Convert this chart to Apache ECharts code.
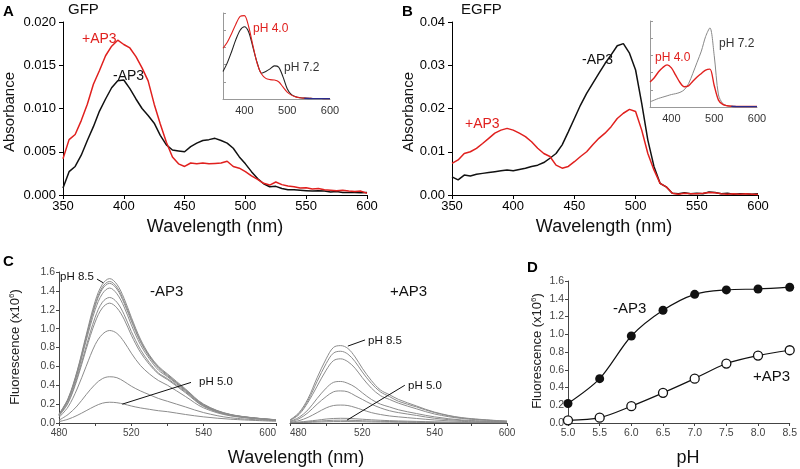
<!DOCTYPE html>
<html lang="en">
<head>
<meta charset="UTF-8">
<title>GFP / EGFP spectra</title>
<script src="https://cdn.jsdelivr.net/npm/echarts@6/dist/echarts.min.js"></script>
<style>
  html, body { margin: 0; padding: 0; background: #fff; }
  #chart { width: 800px; height: 469px; }
</style>
</head>
<body>
<div id="chart"></div>
<script>
// ---- data ----

// panels A and B: absorbance, 350-600 nm every 5 nm
var absWave = [350,355,360,365,370,375,380,385,390,395,400,405,410,415,420,425,430,435,440,445,450,
  455,460,465,470,475,480,485,490,495,500,505,510,515,520,525,530,535,540,545,550,
  555,560,565,570,575,580,585,590,595,600];

var gfpPlus = [0.0042,0.0064,0.0070,0.0086,0.0105,0.0128,0.0144,0.0161,0.0172,0.0179,0.0174,0.0170,0.0160,0.0147,0.0132,0.0105,0.0082,0.0061,0.0044,0.0036,0.0033,
  0.0037,0.0036,0.0037,0.0036,0.00365,0.0037,0.0039,0.0033,0.0031,0.0027,0.0022,0.0018,0.00135,0.00115,0.0015,0.0012,0.00105,0.00095,0.0008,0.00085,
  0.0007,0.00075,0.0006,0.00055,0.0005,0.00055,0.00045,0.0004,0.00045,0.0002];
var gfpMinus = [0.0008,0.0027,0.0033,0.0046,0.0063,0.0079,0.0097,0.0111,0.0124,0.0132,0.0133,0.0123,0.0111,0.0100,0.0092,0.0083,0.0069,0.0058,0.0052,0.0051,0.0050,
  0.0056,0.0060,0.0063,0.0064,0.00655,0.0063,0.0060,0.0054,0.0044,0.0036,0.0027,0.0019,0.0013,0.00095,0.0010,0.00075,0.0006,0.0006,0.00055,0.0005,
  0.00045,0.0005,0.00045,0.00035,0.0004,0.0003,0.0003,0.0003,0.00025,0.0003];

var egfpMinus = [0.0042,0.0035,0.0046,0.0044,0.0048,0.0050,0.0052,0.0054,0.0056,0.0058,0.0056,0.0059,0.0062,0.0066,0.0069,0.0075,0.0085,0.0096,0.0116,0.0146,0.0177,
  0.0208,0.0235,0.0258,0.0281,0.0304,0.0324,0.0345,0.0350,0.0328,0.0289,0.0212,0.0127,0.0066,0.0027,0.0019,0.0004,0.0003,0.0005,0.0003,0.0004,
  0.0003,0.0007,0.0006,0.0003,0.0004,0.0002,0.0003,0.0003,0.0002,0.0003];
var egfpPlus = [0.0073,0.0081,0.0096,0.0100,0.0108,0.0119,0.0131,0.0143,0.0150,0.0154,0.0150,0.0143,0.0135,0.0123,0.0108,0.0096,0.0089,0.0069,0.0062,0.0066,0.0077,
  0.0089,0.0100,0.0116,0.0131,0.0143,0.0158,0.0177,0.0189,0.0198,0.0193,0.0150,0.0096,0.0058,0.0027,0.0019,0.0004,0.0002,0.0004,0.0003,0.0003,
  0.0004,0.0006,0.0005,0.0003,0.0002,0.0003,0.0002,0.0003,0.0002,0.0001];

// insets: normalised absorbance, 350-600 nm every 10 nm
var insetWave = [350,360,370,380,390,400,410,420,430,440,450,460,470,480,490,500,510,520,530,540,550,560,570,580,590,600];
var gfpPH40 = [0.59,0.66,0.76,0.87,0.96,0.97,0.84,0.62,0.41,0.29,0.24,0.225,0.22,0.20,0.14,0.08,0.045,0.025,0.015,0.01,0.008,0.006,0.005,0.005,0.004,0.004];
var gfpPH72 = [0.32,0.42,0.55,0.69,0.80,0.84,0.78,0.60,0.42,0.30,0.32,0.35,0.385,0.37,0.26,0.12,0.05,0.025,0.015,0.01,0.008,0.006,0.005,0.005,0.004,0.004];
var egfpPH40 = [0.29,0.34,0.41,0.46,0.49,0.455,0.37,0.285,0.235,0.245,0.30,0.35,0.39,0.43,0.44,0.25,0.08,0.03,0.015,0.008,0.005,0.005,0.005,0.005,0.005,0.005];
var egfpPH72 = [0.06,0.08,0.10,0.115,0.13,0.145,0.155,0.17,0.20,0.27,0.39,0.52,0.65,0.82,0.92,0.60,0.14,0.04,0.015,0.01,0.005,0.005,0.005,0.005,0.005,0.005];
var tailWave = [540,550,560,570,580,590,600];
var tailVals = [0.008,0.006,0.005,0.005,0.004,0.004,0.004];

// panel C: emission spectra (x10^6), one row per pH, high pH first
var emWave = [480,485,490,495,500,504,508,512,516,520,525,530,535,540,550,560,575,600];
var emMinus = [
  [0.095,0.26,0.55,0.93,1.29,1.47,1.53,1.47,1.32,1.12,0.89,0.72,0.60,0.52,0.36,0.20,0.09,0.035],
  [0.09,0.25,0.54,0.91,1.26,1.44,1.50,1.44,1.29,1.10,0.87,0.71,0.59,0.51,0.35,0.195,0.088,0.034],
  [0.09,0.25,0.53,0.90,1.24,1.42,1.48,1.42,1.27,1.08,0.86,0.70,0.58,0.50,0.35,0.19,0.087,0.034],
  [0.085,0.24,0.51,0.87,1.20,1.37,1.43,1.37,1.23,1.04,0.83,0.68,0.56,0.49,0.34,0.185,0.085,0.033],
  [0.08,0.22,0.48,0.81,1.12,1.28,1.33,1.28,1.15,0.97,0.78,0.64,0.53,0.47,0.33,0.18,0.082,0.032],
  [0.075,0.21,0.46,0.78,1.07,1.22,1.27,1.22,1.10,0.93,0.75,0.62,0.52,0.46,0.32,0.175,0.08,0.031],
  [0.06,0.17,0.36,0.60,0.83,0.94,0.98,0.95,0.86,0.74,0.61,0.52,0.45,0.40,0.28,0.16,0.075,0.03],
  [0.03,0.09,0.18,0.30,0.41,0.47,0.49,0.48,0.44,0.39,0.34,0.30,0.26,0.23,0.17,0.11,0.055,0.024],
  [0.015,0.04,0.08,0.13,0.18,0.21,0.22,0.215,0.20,0.18,0.16,0.145,0.13,0.12,0.09,0.065,0.04,0.018]
];
var emPlus = [
  [0.033,0.11,0.26,0.48,0.68,0.80,0.82,0.79,0.70,0.58,0.45,0.35,0.30,0.25,0.18,0.115,0.057,0.02],
  [0.03,0.10,0.24,0.44,0.63,0.74,0.76,0.73,0.65,0.54,0.42,0.33,0.28,0.23,0.17,0.11,0.053,0.019],
  [0.027,0.09,0.22,0.39,0.56,0.66,0.68,0.65,0.58,0.48,0.37,0.29,0.25,0.21,0.15,0.095,0.048,0.017],
  [0.018,0.06,0.14,0.26,0.37,0.43,0.44,0.42,0.38,0.32,0.25,0.20,0.17,0.14,0.10,0.065,0.032,0.012],
  [0.014,0.045,0.11,0.20,0.28,0.33,0.34,0.33,0.29,0.25,0.20,0.16,0.13,0.11,0.08,0.05,0.026,0.01],
  [0.008,0.025,0.06,0.11,0.16,0.185,0.19,0.185,0.165,0.14,0.11,0.09,0.075,0.065,0.048,0.032,0.017,0.007],
  [0.004,0.01,0.02,0.03,0.042,0.048,0.05,0.049,0.045,0.04,0.034,0.029,0.025,0.022,0.017,0.012,0.007,0.004],
  [0.003,0.006,0.012,0.019,0.025,0.029,0.03,0.029,0.027,0.024,0.021,0.018,0.016,0.014,0.011,0.008,0.005,0.003],
  [0.002,0.004,0.007,0.01,0.013,0.015,0.015,0.015,0.014,0.013,0.011,0.01,0.009,0.008,0.006,0.005,0.003,0.002]
];
// the figure labels its 7 ticks oddly; keep its text
var emTickValues = [480, 520, 560, 600];
var emTickText = ['480', '520', '540', '600'];

// panel D: peak fluorescence vs pH
var phValues = [5.0, 5.5, 6.0, 6.5, 7.0, 7.5, 8.0, 8.5];
var peakMinus = [0.22, 0.50, 0.98, 1.27, 1.45, 1.50, 1.51, 1.53];
var peakPlus = [0.03, 0.06, 0.19, 0.34, 0.50, 0.67, 0.76, 0.82];

// ---- chart ----
var chart = echarts.init(document.getElementById('chart'));
var font = '"Liberation Sans", Arial, Helvetica, sans-serif';
var RED = '#e0201e';

function pairs(xs, ys) {
  return xs.map(function (x, i) { return [x, ys[i]]; });
}

function axis(grid, min, max, interval, opt) {
  opt = opt || {};
  return {
    type: 'value', gridIndex: grid, min: min, max: max, interval: interval,
    show: opt.show !== false,
    splitLine: { show: false },
    axisLine: { show: true, onZero: false, lineStyle: { color: opt.lineColor || '#000', width: 1 } },
    axisTick: { show: opt.tick !== false, inside: !!opt.inside, length: opt.tickLen || 4,
      lineStyle: { color: opt.lineColor || '#000' } },
    axisLabel: { show: opt.label !== false, color: opt.labelColor || '#000', fontSize: opt.fontSize || 13,
      fontFamily: font, margin: opt.margin || 5, formatter: opt.formatter, showMinLabel: true, showMaxLabel: true,
      alignMinLabel: opt.alignMin, alignMaxLabel: opt.alignMax }
  };
}

function line(name, xi, yi, data, color, width, extra) {
  var s = {
    name: name, type: 'line', xAxisIndex: xi, yAxisIndex: yi, data: data,
    showSymbol: false, symbol: 'none', silent: true,
    lineStyle: { color: color, width: width }, itemStyle: { color: color }
  };
  for (var k in extra) s[k] = extra[k];
  return s;
}

var grids = [
  { left: 63, top: 22, width: 304, height: 173 },   // A
  { left: 223, top: 13, width: 107, height: 86 },   // A inset
  { left: 452, top: 22, width: 306, height: 173 },  // B
  { left: 650, top: 21, width: 107, height: 86 },   // B inset
  { left: 59, top: 272, width: 217, height: 151 },  // C -AP3
  { left: 290, top: 272, width: 217, height: 151 }, // C +AP3
  { left: 568, top: 281, width: 223, height: 142 }  // D
];

var insetX = function (v) { return v % 100 === 0 ? String(v) : ''; };
var emX = function (v) { var i = emTickValues.indexOf(v); return i < 0 ? '' : emTickText[i]; };
var fix1 = function (v) { return v.toFixed(1); };

var xAxes = [
  axis(0, 350, 600, 50),
  axis(1, 350, 600, 50, { tick: false, fontSize: 11, labelColor: '#333', lineColor: '#999', formatter: insetX, margin: 6 }),
  axis(2, 350, 600, 50),
  axis(3, 350, 600, 50, { tick: false, fontSize: 11, labelColor: '#333', lineColor: '#999', formatter: insetX, margin: 6 }),
  axis(4, 480, 600, 20, { fontSize: 10, labelColor: '#444', lineColor: '#444', tickLen: 3, formatter: emX, margin: 5, alignMax: 'right' }),
  axis(5, 480, 600, 20, { fontSize: 10, labelColor: '#444', lineColor: '#444', tickLen: 3, formatter: emX, margin: 5, alignMin: 'left' }),
  axis(6, 5, 8.5, 0.5, { fontSize: 10.5, labelColor: '#444', lineColor: '#444', tickLen: 3, formatter: fix1, margin: 5 })
];
var yAxes = [
  axis(0, 0, 0.02, 0.005, { formatter: function (v) { return v.toFixed(3); }, margin: 7 }),
  axis(1, 0, 1, 0.2, { label: false, inside: true, tickLen: 3, lineColor: '#999' }),
  axis(2, 0, 0.04, 0.01, { formatter: function (v) { return v.toFixed(2); }, margin: 7 }),
  axis(3, 0, 1, 0.2, { label: false, inside: true, tickLen: 3, lineColor: '#999' }),
  axis(4, 0, 1.6, 0.2, { fontSize: 10.5, labelColor: '#444', lineColor: '#444', tickLen: 3, formatter: fix1, margin: 4 }),
  axis(5, 0, 1.6, 0.2, { show: false }),
  axis(6, 0, 1.6, 0.2, { fontSize: 10.5, labelColor: '#444', lineColor: '#444', tickLen: 3, formatter: fix1, margin: 4 })
];

var leader = { silent: true, symbol: ['none', 'none'], label: { show: false },
  lineStyle: { color: '#111', width: 1, type: 'solid' }, emphasis: { disabled: true } };

var series = [
  line('GFP -AP3', 0, 0, pairs(absWave, gfpMinus), '#111', 1.5),
  line('GFP +AP3', 0, 0, pairs(absWave, gfpPlus), RED, 1.5),
  line('GFP pH 7.2', 1, 1, pairs(insetWave, gfpPH72), '#222', 1.1, { smooth: 0.3 }),
  line('GFP pH 4.0', 1, 1, pairs(insetWave, gfpPH40), RED, 1.1, { smooth: 0.3 }),
  line('GFP tail', 1, 1, pairs(tailWave, tailVals), '#2b2b8c', 1.3),
  line('EGFP -AP3', 2, 2, pairs(absWave, egfpMinus), '#111', 1.5),
  line('EGFP +AP3', 2, 2, pairs(absWave, egfpPlus), RED, 1.5),
  line('EGFP pH 7.2', 3, 3, pairs(insetWave, egfpPH72), '#888', 1, { smooth: 0.3 }),
  line('EGFP pH 4.0', 3, 3, pairs(insetWave, egfpPH40), RED, 1.4, { smooth: 0.3 }),
  line('EGFP tail', 3, 3, pairs(tailWave, tailVals), '#2b2b8c', 1.3)
];

emMinus.forEach(function (row, i) {
  var extra = { smooth: 0.35 };
  if (i === 0) extra.markLine = Object.assign({ data: [
    [{ coord: [501, 1.525] }, { coord: [504.5, 1.485] }],
    [{ coord: [515, 0.20] }, { coord: [553, 0.43] }]
  ] }, leader);
  series.push(line('-AP3 ' + i, 4, 4, pairs(emWave, row), '#8c8c8c', 1, extra));
});
emPlus.forEach(function (row, i) {
  var extra = { smooth: 0.35 };
  if (i === 0) extra.markLine = Object.assign({ data: [
    [{ coord: [512, 0.815] }, { coord: [521.5, 0.88] }],
    [{ coord: [511.5, 0.03] }, { coord: [543.5, 0.40] }]
  ] }, leader);
  series.push(line('+AP3 ' + i, 5, 5, pairs(emWave, row), '#8c8c8c', 1, extra));
});

series.push({
  name: 'D -AP3', type: 'line', xAxisIndex: 6, yAxisIndex: 6, data: pairs(phValues, peakMinus),
  smooth: 0.3, symbol: 'circle', symbolSize: 9, silent: true,
  lineStyle: { color: '#111', width: 1.2 }, itemStyle: { color: '#111' }
});
series.push({
  name: 'D +AP3', type: 'line', xAxisIndex: 6, yAxisIndex: 6, data: pairs(phValues, peakPlus),
  smooth: 0.3, symbol: 'circle', symbolSize: 9, silent: true,
  lineStyle: { color: '#111', width: 1.2 }, itemStyle: { color: '#fff', borderColor: '#111', borderWidth: 1.3 }
});

function txt(s, x, y, size, color, o) {
  o = o || {};
  var el = {
    type: 'text', x: x, y: y, rotation: o.rot || 0, silent: true,
    style: { text: s, fill: color || '#000', fontSize: size, fontFamily: font, fontWeight: o.bold ? 'bold' : 'normal',
      align: o.align || 'left', verticalAlign: 'middle', textAlign: o.align || 'left', textVerticalAlign: 'middle' }
  };
  if (o.rich) el.style.rich = o.rich;
  return el;
}
var sup = { s: { fontSize: 8, fontFamily: font, fill: '#222', verticalAlign: 'top', lineHeight: 14 } };

var graphics = [
  txt('A', 3, 12, 15, '#000', { bold: true }),
  txt('GFP', 68, 10, 15, '#111'),
  txt('+AP3', 82, 39, 14, RED),
  txt('-AP3', 113, 76, 14, '#111'),
  txt('pH 4.0', 253, 29, 12, RED),
  txt('pH 7.2', 284, 68, 12, '#333'),
  txt('Wavelength (nm)', 215, 227, 18, '#111', { align: 'center' }),
  txt('Absorbance', 10, 112, 15, '#111', { align: 'center', rot: Math.PI / 2 }),

  txt('B', 402, 12, 15, '#000', { bold: true }),
  txt('EGFP', 461, 10, 15, '#111'),
  txt('-AP3', 582, 60, 14, '#111'),
  txt('+AP3', 465, 124, 14, RED),
  txt('pH 4.0', 655, 58, 12, RED),
  txt('pH 7.2', 719, 44, 12, '#333'),
  txt('Wavelength (nm)', 604, 227, 18, '#111', { align: 'center' }),
  txt('Absorbance', 409, 112, 15, '#111', { align: 'center', rot: Math.PI / 2 }),

  txt('C', 3, 262, 15, '#000', { bold: true }),
  txt('-AP3', 150, 292, 15, '#111'),
  txt('+AP3', 390, 292, 15, '#111'),
  txt('pH 8.5', 60, 277, 11.5, '#111'),
  txt('pH 5.0', 199, 382, 11.5, '#111'),
  txt('pH 8.5', 368, 341, 11.5, '#111'),
  txt('pH 5.0', 408, 386, 11.5, '#111'),
  txt('Wavelength (nm)', 296, 458, 18, '#111', { align: 'center' }),
  txt('Fluorescence (x10{s|6})', 15, 347, 13, '#222', { align: 'center', rot: Math.PI / 2, rich: sup }),

  txt('D', 527, 268, 15, '#000', { bold: true }),
  txt('-AP3', 613, 309, 15, '#111'),
  txt('+AP3', 753, 377, 15, '#111'),
  txt('pH', 688, 458, 18, '#111', { align: 'center' }),
  txt('Fluorescence (x10{s|6})', 537, 351, 13, '#222', { align: 'center', rot: Math.PI / 2, rich: sup })
];

chart.setOption({
  animation: false,
  backgroundColor: '#fff',
  grid: grids,
  xAxis: xAxes,
  yAxis: yAxes,
  series: series,
  graphic: graphics
});
</script>
</body>
</html>
